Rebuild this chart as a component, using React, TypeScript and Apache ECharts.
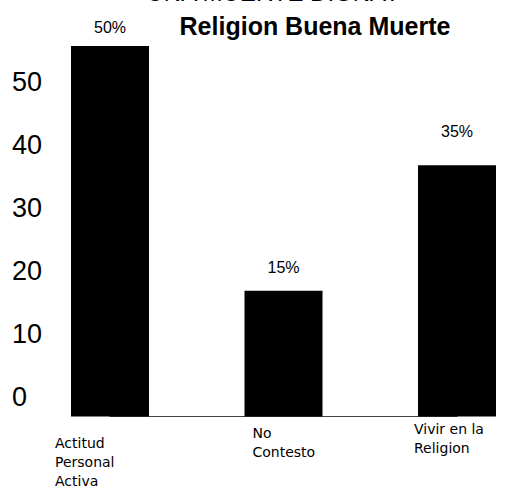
import React, { useEffect, useRef } from "react";
import * as echarts from "echarts";

const categories = ["Actitud\nPersonal\nActiva", "No\nContesto", "Vivir en la\nReligion"];
const values = [59, 20, 40];
const pctLabels = ["50%", "15%", "35%"];
const mainTitle = "Religion Buena Muerte";
const topTitle = "UNA MUERTE DIGNA?";
const yMin = 0;
const yMax = 60;
const yInterval = 10;

// per-category label nudges (style only)
const labelPads = [
  [16.5, 0, 0, -55],
  [6.5, 0, 0, -31],
  [2.5, 0, 0, -43],
];
const pctDistances = [10, 15, 26];

export default function App() {
  const ref = useRef<HTMLDivElement>(null);
  useEffect(() => {
    if (!ref.current) return;
    const chart = echarts.init(ref.current, null, { renderer: "svg" });
    chart.setOption({
      animation: false,
      backgroundColor: "#ffffff",
      textStyle: { fontFamily: "Liberation Sans, Arial, sans-serif" },
      graphic: [
        {
          type: "text",
          x: 273,
          y: -8,
          style: {
            text: topTitle,
            fontSize: 24,
            fontFamily: "Liberation Sans, Arial, sans-serif",
            fill: "#000",
            align: "center",
            verticalAlign: "middle",
          },
        },
        {
          type: "text",
          x: 315,
          y: 26,
          style: {
            text: mainTitle,
            fontSize: 25,
            fontWeight: "bold",
            fontFamily: "Liberation Sans, Arial, sans-serif",
            fill: "#000",
            align: "center",
            verticalAlign: "middle",
          },
        },
      ],
      grid: { left: 110, right: 50, top: 39.6, bottom: 70, containLabel: false },
      xAxis: {
        type: "category",
        boundaryGap: false,
        data: categories.map((c, i) => ({
          value: c,
          textStyle: { padding: labelPads[i], align: "left" },
        })),
        axisLine: { show: true, lineStyle: { color: "#444", width: 1 } },
        axisTick: { show: false },
        splitLine: { show: false },
        axisLabel: {
          interval: 0,
          margin: 0,
          align: "left",
          verticalAlign: "top",
          fontSize: 14,
          lineHeight: 19,
          color: "#000",
          fontFamily: "DejaVu Sans, sans-serif",
        },
      },
      yAxis: {
        type: "value",
        min: yMin,
        max: yMax,
        interval: yInterval,
        axisLine: { show: false },
        axisTick: { show: false },
        splitLine: { show: false },
        axisLabel: {
          showMaxLabel: false,
          showMinLabel: true,
          align: "left",
          margin: 98,
          fontSize: 27,
          lineHeight: 40,
          verticalAlign: "bottom",
          color: "#000",
          fontFamily: "Liberation Sans, Arial, sans-serif",
        },
      },
      series: [
        {
          type: "bar",
          data: values.map((v, i) => ({
            value: v,
            label: { distance: pctDistances[i] },
          })),
          barWidth: 78,
          itemStyle: { color: "#000" },
          label: {
            show: true,
            position: "top",
            distance: 12,
            fontSize: 16,
            color: "#000",
            fontFamily: "Liberation Sans, Arial, sans-serif",
            formatter: (p: any) => pctLabels[p.dataIndex],
          },
        },
      ],
    });
    return () => chart.dispose();
  }, []);
  return (
    <div
      ref={ref}
      style={{ position: "fixed", left: 0, top: 0, width: 507, height: 490 }}
    />
  );
}
